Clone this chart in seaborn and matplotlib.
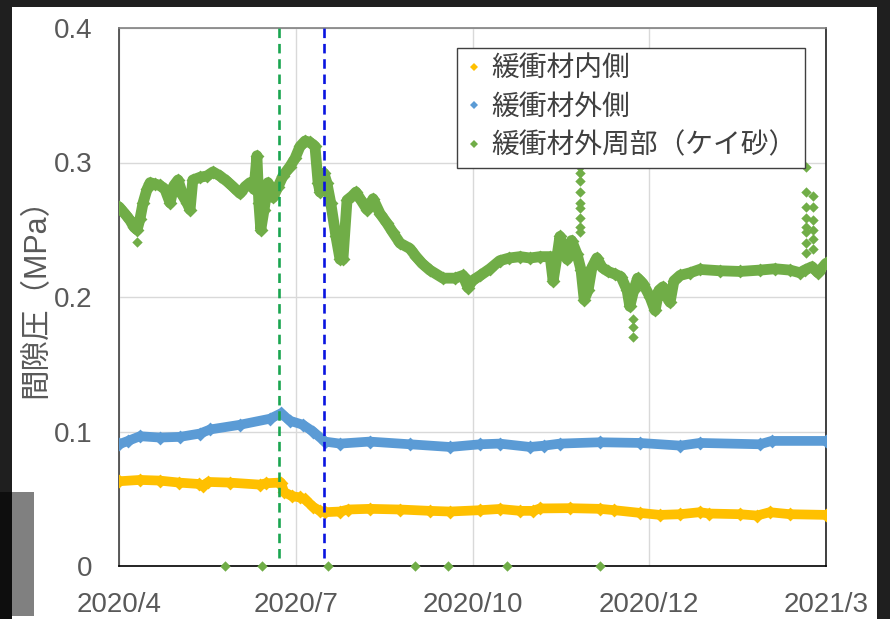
import matplotlib
matplotlib.use("Agg")
import matplotlib.pyplot as plt
from matplotlib.patches import Rectangle
from matplotlib.lines import Line2D
import pandas as pd
import seaborn as sns

# ---- data: elapsed days from 2020/4/1 and pore pressure (MPa) ----
inner_day = [0, 10.8, 21, 31, 41, 43, 46, 57, 72.6, 75.7, 82.4, 83.4, 85, 89, 93, 95.8,
             99.9, 103.5, 106, 113.8, 117.9, 129, 144.7, 160, 170.4, 186, 196, 206.5, 213,
             216.8, 232, 247.6, 255, 268, 278.5, 288.8, 299, 304, 319.7, 328.5, 335, 345.5, 364]
inner_mpa = [0.063, 0.064, 0.0635, 0.062, 0.061, 0.0595, 0.0625, 0.062, 0.0605, 0.0615, 0.062,
             0.062, 0.055, 0.052, 0.051, 0.0495, 0.044, 0.041, 0.040, 0.0405, 0.042, 0.0425,
             0.042, 0.041, 0.0405, 0.0415, 0.0424, 0.041, 0.041, 0.0428, 0.043, 0.0425, 0.0415,
             0.0395, 0.038, 0.0385, 0.040, 0.039, 0.0385, 0.0375, 0.040, 0.0385, 0.038]

outer_day = [0, 4.6, 10.8, 21, 31.4, 41.7, 46.9, 62.3, 77.7, 83.4, 88, 94.7, 99.9, 106, 113.8,
             129, 149.8, 170.4, 186, 196, 211.6, 219, 227, 247.6, 268, 289, 299, 330, 336, 364]
outer_mpa = [0.0905, 0.093, 0.0965, 0.0955, 0.096, 0.0985, 0.1015, 0.105, 0.1095, 0.1135, 0.108,
             0.105, 0.100, 0.0925, 0.091, 0.0925, 0.0905, 0.0885, 0.0905, 0.091, 0.0885, 0.0895,
             0.091, 0.092, 0.0915, 0.0895, 0.0915, 0.0905, 0.093, 0.093]

sand_day = [0, 3, 5.7, 7.7, 9.3, 10.8, 12.4, 14.4, 16, 18.5,
            21, 23.7, 26.3, 28.3, 30.4, 33, 35, 36.6, 38, 41.7,
            45.3, 48.4, 52, 55.6, 58.7, 62.3, 64.9, 67.4, 69.5, 71,
            72, 73, 74.7, 76.7, 79.3, 81.9, 84.4, 88, 90.6, 93.2,
            95.8, 98.3, 100.9, 102.5, 103.5, 105.5, 107, 109, 111.7, 113.8,
            115.3, 117.4, 120, 122, 124.6, 127.7, 130.8, 134.4, 137.9, 141,
            144.7, 149.8, 153, 156, 160, 166.8, 173, 177, 179.7, 181.7,
            186, 191, 196, 201, 206.5, 211.6, 216.8, 222, 223.5, 225.5,
            227, 229, 230.7, 233, 235.8, 237.9, 239.5, 241.5, 243.5, 246,
            248.7, 251.8, 255.4, 258.5, 261.6, 263, 265, 267, 269.8, 273.4,
            276, 278, 280, 282, 283.7, 285.7, 288.8, 294, 299, 309.4,
            319.7, 330, 337.7, 345.5, 350.6, 353, 356.8, 359.9, 364]
sand_mpa = [0.267, 0.262, 0.257, 0.252, 0.250, 0.258, 0.270, 0.280, 0.285, 0.284,
            0.283, 0.280, 0.270, 0.283, 0.287, 0.275, 0.270, 0.265, 0.287, 0.289,
            0.290, 0.293, 0.290, 0.286, 0.282, 0.277, 0.282, 0.285, 0.280, 0.305,
            0.270, 0.250, 0.265, 0.285, 0.274, 0.282, 0.290, 0.297, 0.303, 0.312,
            0.316, 0.315, 0.312, 0.285, 0.278, 0.292, 0.285, 0.270, 0.245, 0.228,
            0.228, 0.272, 0.275, 0.278, 0.272, 0.265, 0.273, 0.262, 0.255, 0.248,
            0.240, 0.236, 0.230, 0.225, 0.220, 0.214, 0.214, 0.216, 0.207, 0.212,
            0.216, 0.221, 0.227, 0.229, 0.230, 0.229, 0.230, 0.230, 0.212, 0.230,
            0.245, 0.235, 0.228, 0.242, 0.232, 0.220, 0.198, 0.205, 0.222, 0.229,
            0.222, 0.219, 0.217, 0.215, 0.205, 0.193, 0.205, 0.214, 0.210, 0.200,
            0.190, 0.205, 0.2075, 0.200, 0.196, 0.212, 0.216, 0.218, 0.2205, 0.2195,
            0.219, 0.220, 0.221, 0.220, 0.218, 0.220, 0.2225, 0.218, 0.225]

# isolated readings of the sand sensor (spikes and drop-outs to zero)
sand_spike_day = [9.3,
                  237.4, 237.4, 237.4, 237.4, 237.4, 237.4, 237.4, 237.4, 237.4,
                  264.6, 264.6, 264.6,
                  353.7, 353.7, 353.7, 353.7, 353.7, 353.7, 353.7, 353.7,
                  357.3, 357.3, 357.3, 357.3, 357.3, 357.3,
                  54.6, 73.6, 107.6, 152.4, 169.4, 199.8, 247.6]
sand_spike_mpa = [0.241,
                  0.297, 0.292, 0.286, 0.278, 0.270, 0.266, 0.259, 0.252, 0.248,
                  0.1705, 0.178, 0.184,
                  0.297, 0.278, 0.267, 0.259, 0.252, 0.248, 0.240, 0.233,
                  0.275, 0.267, 0.257, 0.250, 0.243, 0.236,
                  0, 0, 0, 0, 0, 0, 0]

event_days = [82.4, 105.5]
event_colors = ["#1aa550", "#0a14e0"]

tick_days = [0, 91, 182, 273, 364]
tick_labels = ["2020/4", "2020/7", "2020/10", "2020/12", "2021/3"]

series_names = ["緩衝材内側", "緩衝材外側", "緩衝材外周部（ケイ砂）"]
series_colors = ["#ffc000", "#5b9bd5", "#70ad47"]

# ---- styling ----
sns.set_style("white")
plt.rcParams["font.family"] = ["Liberation Sans", "Noto Sans CJK JP", "DejaVu Sans"]
text_gray = "#595959"

fig = plt.figure(figsize=(8.9, 6.19), dpi=100)
fig.patch.set_facecolor("#1f1f1f")
W, H = 890.0, 619.0
# white slide panel and the grey strip at its lower-left corner
fig.add_artist(Rectangle((12 / W, 0), 865 / W, 612 / H, transform=fig.transFigure,
                         facecolor="white", edgecolor="none", zorder=-10))
fig.add_artist(Rectangle((0, 0), 12 / W, 127 / H, transform=fig.transFigure,
                         facecolor="#0e0e0e", edgecolor="none", zorder=-9))
fig.add_artist(Rectangle((12 / W, 3 / H), 22 / W, 124 / H, transform=fig.transFigure,
                         facecolor="#808080", edgecolor="none", zorder=-9))

ax = fig.add_axes([119 / W, 53 / H, 707 / W, 538 / H])
ax.set_facecolor("white")

frames = [
    pd.DataFrame({"day": inner_day, "mpa": inner_mpa}),
    pd.DataFrame({"day": outer_day, "mpa": outer_mpa}),
    pd.DataFrame({"day": sand_day, "mpa": sand_mpa}),
]
widths = [7, 7, 7.8]
for df, color, lw in zip(frames, series_colors, widths):
    sns.lineplot(data=df, x="day", y="mpa", ax=ax, color=color, lw=lw,
                 solid_joinstyle="round", solid_capstyle="round", legend=False, zorder=3)
    sns.scatterplot(data=df, x="day", y="mpa", ax=ax, color=color, marker="D", s=50,
                    linewidth=0, legend=False, zorder=3)

spikes = pd.DataFrame({"day": sand_spike_day, "mpa": sand_spike_mpa})
sns.scatterplot(data=spikes, x="day", y="mpa", ax=ax, color=series_colors[2], marker="D",
                s=28, linewidth=0, legend=False, zorder=4, clip_on=False)

for d, c in zip(event_days, event_colors):
    ax.axvline(d, ymin=0.015, ymax=1.0, color=c, lw=1.9, dashes=(3.6, 2.2), zorder=5)

ax.set_xlim(0, 364)
ax.set_ylim(0, 0.4)
ax.set_xticks(tick_days)
ax.set_xticklabels(tick_labels)
ax.set_yticks([0, 0.1, 0.2, 0.3, 0.4])
ax.set_yticklabels(["0", "0.1", "0.2", "0.3", "0.4"])
ax.tick_params(axis="both", length=0, labelsize=20, colors=text_gray)
ax.tick_params(axis="y", pad=19)
ax.tick_params(axis="x", pad=19)
ax.grid(True, color="#d9d9d9", lw=1)
ax.set_axisbelow(True)
ax.set_xlabel("")
ax.set_ylabel("間隙圧（MPa）", fontsize=22, color=text_gray)
ax.yaxis.set_label_coords(-0.096, 0.512)

ax.spines["left"].set_color("#404040")
ax.spines["bottom"].set_color("#000000")
ax.spines["top"].set_color("#808080")
ax.spines["right"].set_color("#202020")
for s in ax.spines.values():
    s.set_linewidth(1.2)

handles = [Line2D([], [], ls="", marker="D", markersize=4.5, color=c, markeredgewidth=0)
           for c in series_colors]
leg = ax.legend(handles, series_names, loc="upper left", bbox_to_anchor=(0.478, 0.963),
                borderaxespad=0, fontsize=20, frameon=True, fancybox=False, framealpha=1,
                edgecolor="#404040", handlelength=0.6, handletextpad=0.35,
                labelspacing=0.45, borderpad=0.3)
leg.get_frame().set_linewidth(1.0)
for t in leg.get_texts():
    t.set_color("#404040")
leg.set_zorder(10)

fig.savefig("out.png", dpi=100, facecolor=fig.get_facecolor())
